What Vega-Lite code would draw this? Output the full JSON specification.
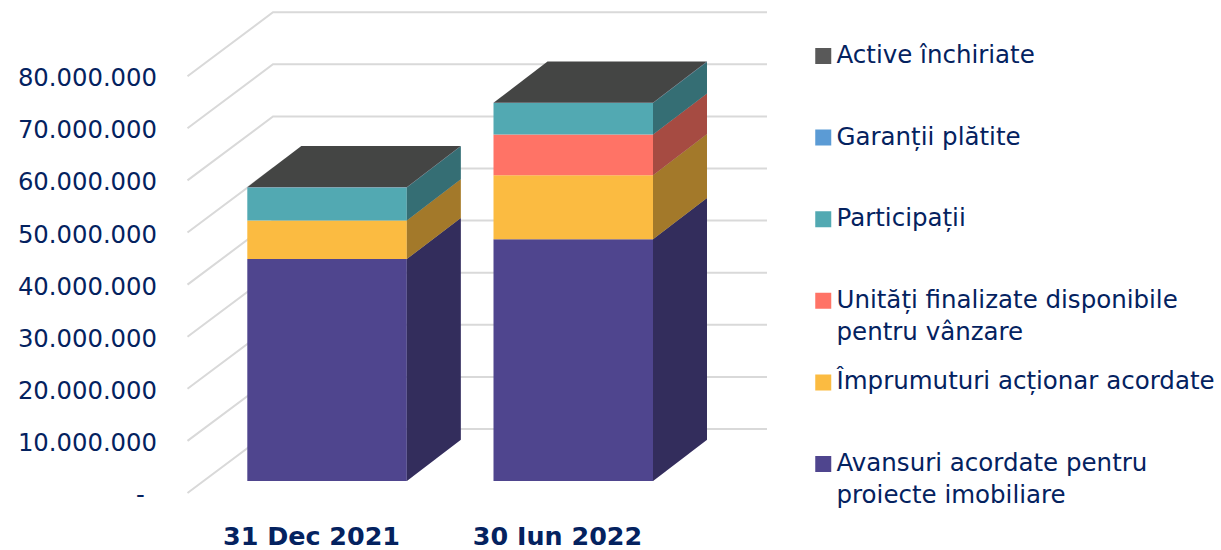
{
"$schema":"https://vega.github.io/schema/vega-lite/v6.json",
"width":1061,"height":520,
"autosize":{"type":"none"},
"padding":{"left":160,"right":0,"top":0,"bottom":30},
"background":"white",
"config":{"view":{"stroke":null},"style":{"guide-label":{"lineHeight":32}}},
"datasets":{
"bars":[
{"period":"31 Dec 2021","series":"Avansuri acordate pentru proiecte imobiliare","value":42600000},
{"period":"31 Dec 2021","series":"Împrumuturi acționar acordate","value":7400000},
{"period":"31 Dec 2021","series":"Unități finalizate disponibile pentru vânzare","value":0},
{"period":"31 Dec 2021","series":"Participații","value":6350000},
{"period":"31 Dec 2021","series":"Garanții plătite","value":50000},
{"period":"31 Dec 2021","series":"Active închiriate","value":0},
{"period":"30 Iun 2022","series":"Avansuri acordate pentru proiecte imobiliare","value":46400000},
{"period":"30 Iun 2022","series":"Împrumuturi acționar acordate","value":12300000},
{"period":"30 Iun 2022","series":"Unități finalizate disponibile pentru vânzare","value":7800000},
{"period":"30 Iun 2022","series":"Participații","value":6050000},
{"period":"30 Iun 2022","series":"Garanții plătite","value":50000},
{"period":"30 Iun 2022","series":"Active închiriate","value":0}
],
"grid":[{"v":0},{"v":10000000},{"v":20000000},{"v":30000000},{"v":40000000},{"v":50000000},{"v":60000000},{"v":70000000},{"v":80000000}]
},
"layer":[
{"data":{"name":"grid"},
 "transform":[
  {"calculate":"[0,1,2]","as":"leg"},{"flatten":["leg"]},
  {"calculate":"datum.leg==0?27.5:(datum.leg==1?113:607)","as":"px"},
  {"calculate":"datum.v+(datum.leg==0?0:12284000)","as":"py"}
 ],
 "mark":{"type":"line","color":"#d9d9d9","strokeWidth":2,"interpolate":"linear"},
 "encoding":{
  "x":{"field":"px","type":"quantitative","scale":{"domain":[0,1061],"range":[0,1061],"nice":false,"zero":false},
   "axis":{"values":[151,397],"labelExpr":"datum.value<200?'31 Dec 2021':'30 Iun 2022'","title":null,"domain":false,"ticks":false,"grid":false,"labelFont":"DejaVu Sans","labelFontSize":25.4,"labelFontWeight":700,"labelColor":"#04225f","labelPadding":24,"labelBaseline":"alphabetic","labelOverlap":false,"labelFlush":false}},
  "y":{"field":"py","type":"quantitative","scale":{"domain":[-5180000,94630000],"nice":false,"zero":false},
   "axis":{"values":[0,10000000,20000000,30000000,40000000,50000000,60000000,70000000,80000000],"labelExpr":"datum.value==0?'-\u2005\u2005\u200b':replace(format(datum.value,','),/,/g,'.')","title":null,"domain":false,"ticks":false,"grid":false,"labelFont":"DejaVu Sans","labelFontSize":24.3,"labelColor":"#04225f","labelPadding":3.5,"labelOverlap":false,"labelFlush":false,"labelOffset":2.5}},
  "detail":{"field":"v"}
 }},
{"data":{"name":"bars"},
 "transform":[
  {"calculate":"indexof(['Avansuri acordate pentru proiecte imobiliare','Împrumuturi acționar acordate','Unități finalizate disponibile pentru vânzare','Participații','Garanții plătite','Active închiriate'],datum.series)","as":"ord"},
  {"stack":"value","groupby":["period"],"sort":[{"field":"ord","order":"ascending"}],"as":["v0","v1"]},
  {"calculate":"datum.period=='31 Dec 2021'?0:1","as":"slot"},
  {"calculate":"87.3+246.2*datum.slot","as":"left"},
  {"calculate":"datum.left+159.5","as":"right"}
 ],
 "layer":[
  {"transform":[
    {"calculate":"datum.v0+2303000","as":"fy0"},
    {"calculate":"datum.v1+2303000","as":"fy1"}],
   "mark":{"type":"rect"},
   "encoding":{
    "x":{"field":"left","type":"quantitative"},
    "x2":{"field":"right"},
    "y":{"field":"fy0","type":"quantitative"},
    "y2":{"field":"fy1"},
    "color":{"field":"series","type":"nominal",
     "scale":{"domain":["Active închiriate","Garanții plătite","Participații","Unități finalizate disponibile pentru vânzare","Împrumuturi acționar acordate","Avansuri acordate pentru proiecte imobiliare"],
      "range":["#595959","#5b9bd5","#52a9b2","#ff7366","#fbbb41","#4f458e"]},
     "legend":{"orient":"none","legendX":651,"legendY":40,"title":null,"symbolType":"square","symbolSize":256,"symbolStrokeWidth":0,"symbolOpacity":1,"labelFont":"DejaVu Sans","labelFontSize":24.5,"labelColor":"#04225f","labelLimit":0,"gridAlign":"all","rowPadding":21.6,"clipHeight":32,"labelOffset":1,
      "labelExpr":"datum.label=='Unități finalizate disponibile pentru vânzare'?['Unități finalizate disponibile','pentru vânzare']:(datum.label=='Avansuri acordate pentru proiecte imobiliare'?['Avansuri acordate pentru','proiecte imobiliare']:datum.label)"}}
   }},
  {"transform":[
    {"calculate":"[0,1]","as":"d"},{"flatten":["d"]},
    {"calculate":"datum.right+datum.d*54","as":"sx"},
    {"calculate":"datum.v0+2303000+datum.d*7900000","as":"sy0"},
    {"calculate":"datum.v1+2303000+datum.d*7900000","as":"sy1"}],
   "mark":{"type":"area","interpolate":"linear"},
   "encoding":{
    "x":{"field":"sx","type":"quantitative"},
    "y":{"field":"sy0","type":"quantitative","stack":null},
    "y2":{"field":"sy1"},
    "color":{"field":"series","type":"nominal"},
    "detail":{"field":"period"}
   }},
  {"transform":[
    {"calculate":"[0,1]","as":"d"},{"flatten":["d"]},
    {"calculate":"datum.right+datum.d*54","as":"sx"},
    {"calculate":"datum.v0+2303000+datum.d*7900000","as":"sy0"},
    {"calculate":"datum.v1+2303000+datum.d*7900000","as":"sy1"}],
   "mark":{"type":"area","interpolate":"linear","color":"#000000","opacity":0.35},
   "encoding":{
    "x":{"field":"sx","type":"quantitative"},
    "y":{"field":"sy0","type":"quantitative","stack":null},
    "y2":{"field":"sy1"},
    "detail":[{"field":"period"},{"field":"series"}]
   }},
  {"transform":[
    {"filter":"datum.series=='Active închiriate'"},
    {"calculate":"[0,1]","as":"d"},{"flatten":["d"]},
    {"calculate":"datum.v1+2303000+datum.d*7900000","as":"ty"},
    {"calculate":"datum.left+datum.d*54","as":"tx0"},
    {"calculate":"datum.right+datum.d*54","as":"tx1"}],
   "mark":{"type":"area","orient":"horizontal","interpolate":"linear","color":"#444544"},
   "encoding":{
    "y":{"field":"ty","type":"quantitative"},
    "x":{"field":"tx0","type":"quantitative","stack":null},
    "x2":{"field":"tx1"},
    "detail":{"field":"period"}
   }}
 ]}
]
}
